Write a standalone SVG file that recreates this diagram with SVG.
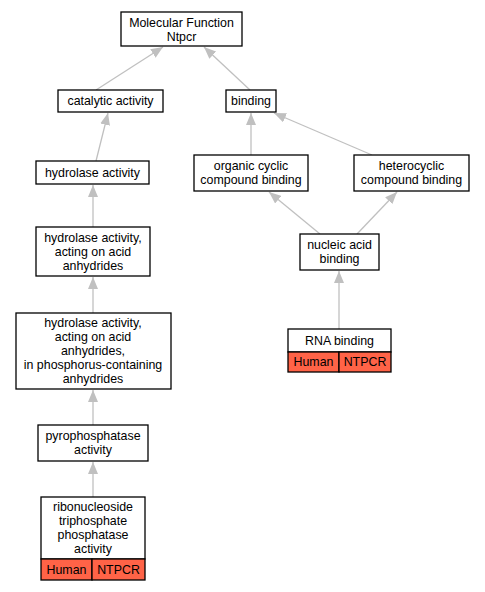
<svg xmlns="http://www.w3.org/2000/svg" width="485" height="592" viewBox="0 0 485 592">
<style>
.n{fill:#fff;stroke:#000;stroke-width:1.3}
.h{fill:#ff6347;stroke:#000;stroke-width:1.3}
text{font-family:"Liberation Sans",Arial,sans-serif;font-size:12.4px;text-anchor:middle;fill:#000}
.e{stroke:#c0c0c0;stroke-width:1.3;fill:none;marker-end:url(#a)}
</style>
<defs>
<marker id="a" markerUnits="userSpaceOnUse" markerWidth="13" markerHeight="10" refX="12" refY="5" orient="auto" viewBox="0 0 13 10">
<polygon points="0,0 12,5 0,10" fill="#c0c0c0"/>
</marker>
</defs>
<rect width="485" height="592" fill="#fff"/>
<g id="edges">
<line class="e" x1="96" y1="90" x2="163" y2="47"/>
<line class="e" x1="250" y1="90" x2="204" y2="47"/>
<line class="e" x1="96" y1="161" x2="108" y2="113"/>
<line class="e" x1="93" y1="227" x2="93" y2="185"/>
<line class="e" x1="93" y1="313" x2="93" y2="277"/>
<line class="e" x1="93" y1="425" x2="93" y2="390"/>
<line class="e" x1="93" y1="497" x2="93" y2="462"/>
<line class="e" x1="251" y1="155" x2="251" y2="113"/>
<line class="e" x1="372" y1="155" x2="274" y2="113"/>
<line class="e" x1="320" y1="234" x2="269" y2="192"/>
<line class="e" x1="357" y1="234" x2="397" y2="192"/>
<line class="e" x1="339" y1="329" x2="339" y2="271"/>
</g>
<g id="mf"><rect class="n" x="121" y="12" width="121" height="34"/><text x="181.5" y="26.5">Molecular Function<tspan x="181.5" dy="14">Ntpcr</tspan></text></g>
<g id="catalytic"><rect class="n" x="58" y="90" width="105" height="22"/><text x="110.5" y="105.3">catalytic activity</text></g>
<g id="binding"><rect class="n" x="226" y="90" width="50" height="22"/><text x="251" y="105.3">binding</text></g>
<g id="hydrolase"><rect class="n" x="36" y="161" width="113" height="23"/><text x="92.5" y="176.8">hydrolase activity</text></g>
<g id="organic"><rect class="n" x="194" y="155" width="114" height="36"/><text x="251" y="170.3">organic cyclic<tspan x="251" dy="14">compound binding</tspan></text></g>
<g id="heterocyclic"><rect class="n" x="354" y="155" width="115" height="36"/><text x="411.5" y="170.3">heterocyclic<tspan x="411.5" dy="14">compound binding</tspan></text></g>
<g id="acting"><rect class="n" x="36" y="227" width="114" height="49"/><text x="93" y="241.8">hydrolase activity,<tspan x="93" dy="14">acting on acid</tspan><tspan x="93" dy="14">anhydrides</tspan></text></g>
<g id="nucleic"><rect class="n" x="300" y="234" width="79" height="36"/><text x="339.5" y="249.3">nucleic acid<tspan x="339.5" dy="14">binding</tspan></text></g>
<g id="phos"><rect class="n" x="16" y="313" width="155" height="76"/><text x="93" y="326.8">hydrolase activity,<tspan x="93" dy="14">acting on acid</tspan><tspan x="93" dy="14">anhydrides,</tspan><tspan x="93" dy="14">in phosphorus-containing</tspan><tspan x="93" dy="14">anhydrides</tspan></text></g>
<g id="rna"><rect class="n" x="288" y="329" width="103" height="23"/><text x="339.5" y="345.3">RNA binding</text><rect class="h" x="288" y="352" width="51" height="20"/><rect class="h" x="339" y="352" width="52" height="20"/><text x="313.5" y="366.3">Human</text><text x="365" y="366.3">NTPCR</text></g>
<g id="pyro"><rect class="n" x="38" y="425" width="110" height="36"/><text x="93" y="440.3">pyrophosphatase<tspan x="93" dy="14">activity</tspan></text></g>
<g id="ribo"><rect class="n" x="41" y="497" width="104" height="62"/><text x="93" y="511.3">ribonucleoside<tspan x="93" dy="14">triphosphate</tspan><tspan x="93" dy="14">phosphatase</tspan><tspan x="93" dy="14">activity</tspan></text><rect class="h" x="41" y="559" width="51" height="21"/><rect class="h" x="92" y="559" width="53" height="21"/><text x="66.5" y="573.8">Human</text><text x="118.5" y="573.8">NTPCR</text></g>
</svg>
